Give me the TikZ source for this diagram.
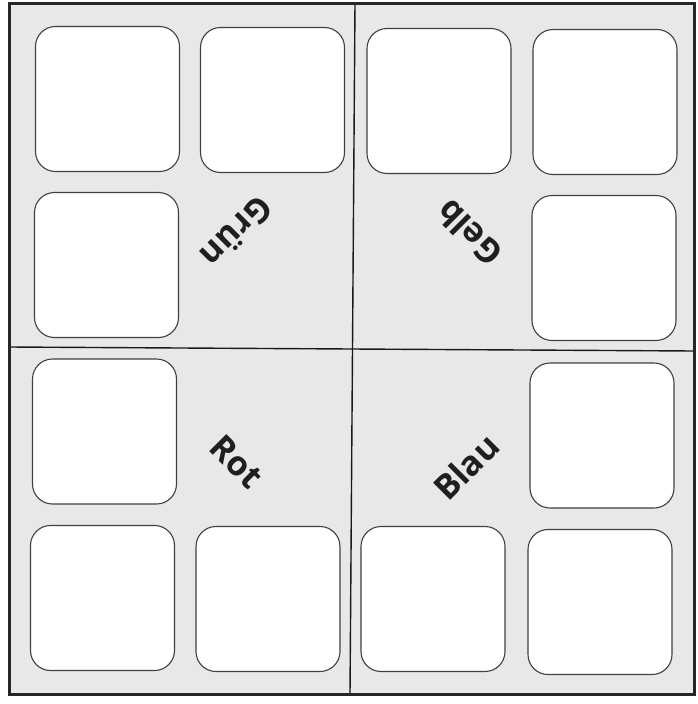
\documentclass[tikz,border=0pt]{standalone}
\usepackage{fontspec}
\setmainfont{Open Sans}
\begin{document}
\begin{tikzpicture}[x=1pt,y=-1pt,
  cell/.style={draw=black!75, line width=1.1pt, fill=white, rounded corners=20pt,
    inner sep=0pt, minimum width=144pt, minimum height=145pt},
  lab/.style={font=\fontsize{34}{40}\selectfont\bfseries, text=black!88, inner sep=0pt},
  divider/.style={line width=1.4pt, black!90},
  frame/.style={line width=3pt, black!85}]
\useasboundingbox (0,0) rectangle (697,704);
\fill[white] (0,0) rectangle (697,704);
\coordinate (tl) at (9,3);
\coordinate (tr) at (694,3);
\coordinate (br) at (694,694);
\coordinate (bl) at (9,694);
\coordinate (vt) at (355,3);
\coordinate (vb) at (350,694);
\coordinate (hl) at (9,347);
\coordinate (hr) at (694,351);
\fill[black!9] (tl) -- (tr) -- (br) -- (bl) -- cycle;
\draw[divider] (vt) -- (vb);
\draw[divider] (hl) -- (hr);
\draw[frame] (tl) -- (tr) -- (br) -- (bl) -- cycle;
% top-left
\node[cell] (b1) at (107.5,99) {};
\node[cell] (b2) at (272.5,100) {};
\node[cell] (b3) at (106.5,265) {};
% top-right
\node[cell] (b4) at (439,101) {};
\node[cell] (b5) at (605,102) {};
\node[cell] (b6) at (604,268) {};
% bottom-left
\node[cell] (b7) at (104.5,431.5) {};
\node[cell] (b8) at (102.5,598) {};
\node[cell] (b9) at (268,599) {};
% bottom-right
\node[cell] (b10) at (602,435.5) {};
\node[cell] (b11) at (433,599) {};
\node[cell] (b12) at (600,602) {};
% labels
\node[lab, rotate=225] (gruen) at (237,232) {Grün};
\node[lab, rotate=135] (gelb) at (469,233) {Gelb};
\node[lab, rotate=-45] (rot) at (237,462) {Rot};
\node[lab, rotate=45] (blau) at (466,467) {Blau};
\end{tikzpicture}
\end{document}
